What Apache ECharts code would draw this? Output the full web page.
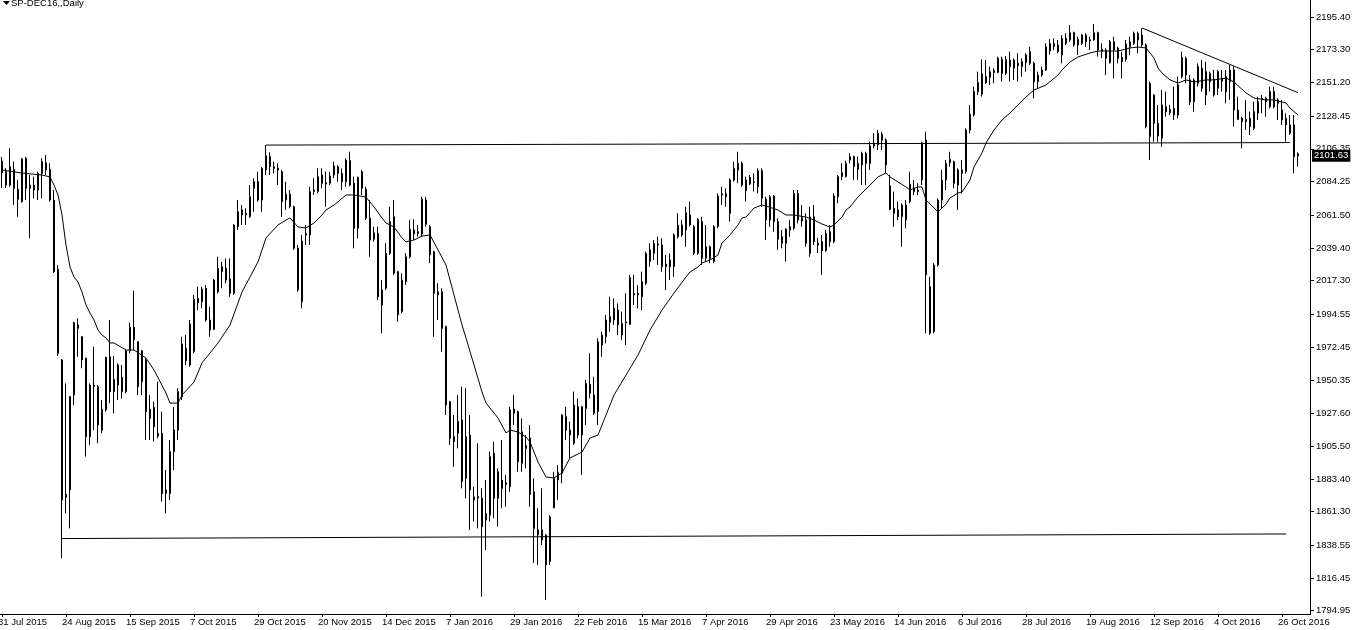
<!DOCTYPE html>
<html><head><meta charset="utf-8">
<script src="https://cdn.jsdelivr.net/npm/echarts@6/dist/echarts.min.js"></script>
<style>html,body{margin:0;padding:0;background:#fff}#c{width:1355px;height:630px}</style>
</head><body><div id="c"></div>
<script>
// ---- categories: trading days shown on the chart ----
const firstDay = '2015-07-31';
const lastDay = '2016-11-01';
const closedDays = ['2015-12-25', '2016-01-01', '2016-03-25'];
const monthNames = ['Jan','Feb','Mar','Apr','May','Jun','Jul','Aug','Sep','Oct','Nov','Dec'];
function buildDates() {
  const out = [];
  let t = Date.parse(firstDay + 'T00:00:00Z');
  const end = Date.parse(lastDay + 'T00:00:00Z');
  while (t <= end) {
    const d = new Date(t);
    const wd = d.getUTCDay();
    const s = d.toISOString().slice(0, 10);
    if (wd !== 0 && wd !== 6 && closedDays.indexOf(s) < 0) out.push(s);
    t += 86400000;
  }
  return out;
}
const dates = buildDates();

// ---- OHLC values ----
const open = [
2098.1,2090.9,2081.9,2092.5,2079.0,2070.7,2100.0,2079.7,2081.9,2078.6,
2089.8,2097.0,2092.5,2071.8,2025.0,1963.8,1871.0,1876.0,1940.1,1987.4,
1979.5,1964.9,1912.0,1946.9,1945.8,1916.5,1930.0,1966.0,1942.4,1946.9,
1952.1,1942.4,1969.9,1985.9,1976.1,1949.1,1963.8,1930.5,1931.8,1912.4,
1914.3,1876.0,1873.7,1901.9,1916.5,1939.0,1971.7,1960.4,1969.4,2002.4,
2003.1,2012.2,1990.8,1984.5,2009.9,2023.4,2025.7,2018.5,2008.8,2053.8,
2065.1,2061.7,2060.5,2079.7,2084.2,2071.8,2092.1,2101.1,2094.3,2093.2,
2090.9,2071.8,2075.7,2067.3,2039.2,2003.1,2048.2,2048.2,2077.5,2077.5,
2088.7,2083.5,2083.1,2088.7,2094.3,2089.8,2084.2,2098.4,2083.1,2052.7,
2090.9,2079.0,2059.5,2045.3,2049.3,2000.9,2012.2,2035.8,2060.5,2023.4,
1996.4,2016.6,2033.5,2051.6,2050.4,2048.9,2071.8,2053.8,2036.9,2007.7,
2009.9,1986.3,1935.6,1908.6,1914.3,1923.3,1883.9,1913.1,1869.2,1871.4,
1870.4,1855.7,1859.1,1900.8,1870.4,1882.7,1880.9,1878.2,1930.7,1928.9,
1894.0,1905.9,1911.0,1874.8,1849.0,1849.0,1845.6,1827.6,1864.0,1882.7,
1887.2,1925.5,1916.5,1907.5,1932.2,1913.1,1931.1,1947.3,1940.1,1928.9,
1973.9,1979.5,1989.2,1990.8,1997.5,1980.6,1989.6,1987.9,2008.8,2008.8,
2006.5,2015.6,2030.2,2035.8,2042.1,2041.4,2026.8,2031.3,2026.8,2047.0,
2054.9,2051.6,2061.7,2053.8,2035.8,2057.2,2032.4,2040.3,2030.2,2053.8,
2075.1,2076.0,2062.8,2085.3,2092.1,2096.6,2078.1,2087.1,2083.5,2080.8,
2091.6,2072.3,2058.3,2074.5,2057.2,2047.0,2042.6,2051.6,2052.7,2076.3,
2057.6,2058.3,2035.8,2060.5,2042.6,2043.7,2037.6,2050.4,2043.7,2074.0,
2087.6,2087.6,2098.8,2101.1,2092.5,2095.5,2103.3,2096.6,2108.3,2109.0,
2116.4,2112.3,2081.3,2066.2,2065.1,2060.5,2068.4,2070.7,2079.7,2078.6,
2085.3,2112.3,2013.3,1982.9,2028.0,2071.8,2085.3,2097.0,2097.7,2081.9,
2092.1,2090.9,2119.1,2129.2,2145.0,2143.4,2155.1,2154.7,2159.1,2158.0,
2166.8,2157.4,2166.4,2160.8,2164.1,2161.9,2164.5,2172.0,2164.1,2151.7,
2156.2,2159.6,2172.5,2175.3,2176.5,2169.7,2181.0,2179.9,2184.8,2176.5,
2177.6,2183.2,2180.0,2179.9,2184.8,2173.6,2173.1,2164.5,2178.7,2174.3,
2168.2,2166.8,2175.3,2177.6,2184.4,2183.2,2176.5,2114.6,2142.7,2123.6,
2113.5,2134.8,2130.8,2133.7,2129.2,2155.1,2167.5,2152.9,2138.2,2150.6,
2160.8,2158.5,2151.7,2153.3,2147.3,2152.0,2155.1,2151.7,2159.6,2132.6,
2127.0,2124.7,2127.0,2120.2,2130.4,2139.4,2140.5,2134.8,2145.0,2139.4,
2132.6,2127.0,2116.9,2122.5,2103.0];
const high = [
2100.9,2093.4,2106.7,2097.7,2085.3,2100.2,2100.9,2088.7,2087.6,2090.9,
2100.0,2102.2,2096.6,2078.6,2027.9,1964.5,1948.0,1939.5,1989.6,1991.9,
1980.0,1965.5,1948.0,1972.8,1946.9,1936.8,1966.0,1990.8,1966.5,1961.5,
1960.4,1970.5,1989.0,2010.6,1976.6,1970.5,1964.9,1940.1,1935.6,1949.1,
1928.9,1889.5,1909.7,1932.2,1944.7,1979.5,1980.6,1990.8,2007.7,2013.3,
2013.3,2014.4,1999.8,2018.5,2033.5,2030.1,2032.4,2032.4,2055.5,2071.8,
2068.4,2066.2,2081.9,2086.5,2090.9,2094.0,2108.9,2104.0,2097.7,2096.6,
2092.1,2084.2,2078.6,2068.0,2041.4,2048.2,2054.9,2080.8,2086.5,2093.2,
2093.2,2090.9,2090.9,2097.7,2095.4,2093.2,2100.0,2104.4,2087.6,2087.6,
2092.1,2080.8,2071.8,2053.8,2053.8,2017.8,2042.6,2067.3,2071.8,2024.0,
2022.3,2035.8,2058.3,2058.8,2054.9,2074.0,2074.0,2054.9,2037.5,2015.6,
2012.2,1987.0,1936.2,1926.6,1940.1,1945.8,1944.7,1926.6,1878.2,1907.5,
1877.1,1882.7,1901.9,1908.6,1890.6,1909.7,1886.1,1932.2,1940.1,1929.5,
1924.4,1913.1,1919.9,1883.9,1863.6,1877.1,1846.2,1859.1,1888.3,1892.8,
1927.2,1932.2,1922.1,1942.4,1937.9,1932.8,1950.3,1968.3,1952.5,1978.4,
1982.9,1994.2,2006.5,2005.4,2002.0,1996.4,2008.8,2021.2,2021.2,2014.4,
2023.4,2036.9,2042.6,2044.8,2047.0,2046.0,2034.7,2035.8,2049.3,2062.8,
2058.3,2067.3,2070.7,2054.9,2059.5,2060.5,2054.9,2041.0,2054.9,2076.3,
2080.8,2079.7,2086.5,2097.7,2104.4,2097.7,2087.6,2088.7,2089.8,2093.2,
2093.2,2074.0,2075.2,2075.2,2059.5,2051.6,2052.7,2058.3,2078.6,2078.6,
2068.4,2062.8,2067.3,2068.4,2046.2,2048.2,2051.6,2054.9,2076.3,2088.7,
2096.6,2098.4,2103.3,2101.8,2101.1,2104.4,2104.4,2111.2,2116.9,2119.1,
2117.9,2113.5,2088.7,2077.5,2070.7,2069.6,2071.8,2090.9,2085.3,2083.1,
2111.2,2117.9,2020.0,2029.1,2072.9,2092.1,2098.8,2104.4,2098.4,2093.2,
2098.8,2120.2,2136.0,2148.4,2158.5,2166.8,2166.4,2161.9,2160.8,2168.6,
2168.6,2169.1,2172.0,2167.5,2170.9,2167.5,2170.9,2175.3,2165.2,2158.5,
2161.9,2177.6,2180.5,2181.0,2179.9,2183.2,2184.4,2190.0,2185.5,2182.1,
2183.8,2184.4,2182.1,2190.7,2185.5,2177.6,2174.3,2179.9,2182.1,2175.3,
2172.0,2179.9,2182.1,2185.5,2185.5,2187.8,2177.6,2151.7,2143.3,2136.0,
2146.1,2145.0,2136.0,2148.4,2155.1,2172.0,2168.6,2156.2,2154.0,2164.1,
2166.4,2165.2,2158.5,2159.6,2159.6,2159.6,2159.6,2163.0,2161.9,2141.6,
2128.1,2139.4,2131.5,2138.2,2141.6,2142.7,2141.6,2148.4,2148.4,2140.5,
2139.4,2130.4,2129.2,2129.2,2104.0];
const low = [
2079.9,2079.9,2080.8,2068.5,2060.5,2070.0,2071.8,2046.0,2073.0,2071.8,
2073.0,2088.7,2070.7,2022.5,1966.5,1829.9,1860.2,1850.1,1933.4,1966.0,
1958.2,1898.5,1906.4,1916.5,1907.5,1914.3,1929.0,1934.5,1927.8,1936.8,
1937.9,1941.3,1968.3,1970.5,1940.1,1940.1,1909.8,1909.8,1908.6,1910.9,
1868.1,1860.2,1869.2,1889.5,1909.7,1936.8,1960.4,1959.3,1968.3,1997.5,
1998.7,1989.6,1979.5,1984.0,2008.8,2012.2,2015.6,2006.5,2007.7,2051.6,
2054.9,2054.9,2059.8,2063.9,2070.7,2063.9,2088.7,2088.7,2089.8,2081.9,
2060.5,2065.1,2066.2,2038.1,2009.9,1998.7,2041.4,2041.4,2075.2,2076.3,
2079.7,2067.3,2081.9,2086.5,2084.2,2078.6,2080.8,2081.0,2039.2,2045.9,
2075.2,2058.3,2033.5,2043.7,2004.3,1981.8,2011.0,2034.7,2021.2,1989.6,
1995.3,2014.4,2032.4,2044.8,2047.1,2047.1,2053.8,2029.1,1979.5,1990.8,
1969.4,1926.6,1906.4,1891.7,1904.1,1877.1,1870.4,1849.0,1854.6,1850.1,
1804.0,1835.5,1854.6,1856.9,1851.2,1863.6,1864.7,1874.8,1919.9,1888.3,
1888.3,1890.6,1864.7,1826.8,1825.4,1838.8,1801.7,1825.4,1863.6,1869.2,
1880.5,1909.7,1897.4,1906.4,1910.9,1886.1,1919.9,1937.9,1926.6,1919.9,
1966.0,1975.0,1982.9,1987.4,1980.6,1977.3,1973.9,1987.4,2000.9,1998.7,
1997.5,2014.4,2026.8,2031.3,2027.9,2023.4,2011.0,2017.8,2020.0,2045.9,
2047.0,2040.3,2053.8,2034.7,2034.7,2027.9,2030.2,2029.1,2029.1,2052.7,
2068.5,2067.3,2057.2,2084.2,2083.1,2080.8,2070.7,2081.9,2077.5,2076.3,
2067.3,2044.8,2053.8,2050.4,2038.1,2039.2,2030.2,2047.0,2051.6,2056.1,
2053.8,2040.3,2033.5,2041.4,2036.0,2021.2,2036.9,2040.3,2042.6,2069.6,
2085.3,2087.0,2096.6,2085.3,2085.3,2081.9,2081.9,2092.1,2106.7,2105.6,
2105.6,2089.8,2065.1,2053.8,2058.3,2040.3,2052.7,2069.6,2075.2,2075.2,
2081.9,1981.8,1980.7,1981.8,2026.8,2066.2,2078.6,2094.3,2079.7,2065.1,
2076.3,2089.8,2116.9,2128.1,2142.7,2141.6,2150.2,2149.5,2150.6,2157.4,
2151.7,2156.2,2151.7,2152.9,2151.7,2155.1,2158.5,2163.0,2140.5,2147.3,
2155.1,2159.0,2170.0,2173.1,2170.9,2164.1,2176.5,2178.7,2175.3,2169.7,
2176.5,2175.3,2173.1,2179.4,2168.6,2167.5,2156.2,2164.1,2154.0,2164.1,
2154.0,2165.2,2169.7,2176.5,2170.9,2175.3,2120.2,2098.8,2111.2,2111.2,
2107.8,2128.1,2129.2,2125.8,2127.0,2154.0,2150.6,2136.0,2131.5,2148.4,
2145.0,2136.0,2145.0,2141.6,2142.7,2145.0,2137.1,2139.4,2121.3,2125.8,
2106.7,2119.1,2115.7,2119.1,2125.8,2130.4,2128.1,2133.7,2133.7,2125.8,
2122.5,2111.2,2115.7,2089.8,2094.3];
const close = [
2090.1,2081.9,2094.3,2079.7,2072.3,2099.5,2079.7,2081.9,2078.6,2089.8,
2097.7,2092.1,2071.8,2023.4,1968.3,1869.2,1873.1,1939.0,1989.0,1985.2,
1963.8,1912.0,1946.9,1945.8,1919.9,1930.5,1965.6,1942.4,1950.7,1960.4,
1942.4,1969.9,1985.9,1977.3,1945.8,1970.0,1928.9,1924.4,1918.7,1914.3,
1873.7,1873.7,1901.9,1916.5,1942.4,1974.6,1963.3,1988.1,2004.8,2005.4,
2011.7,1990.8,1984.0,2017.8,2025.7,2026.8,2017.8,2008.8,2054.9,2063.9,
2061.7,2062.8,2074.0,2084.2,2071.8,2093.2,2101.7,2094.3,2093.2,2092.1,
2070.7,2075.7,2067.3,2039.2,2011.0,2044.1,2049.3,2077.5,2078.6,2087.6,
2083.1,2082.6,2088.0,2094.8,2089.8,2084.2,2098.8,2081.9,2052.7,2087.1,
2079.7,2059.5,2044.8,2049.7,2006.5,2011.0,2035.8,2057.2,2022.3,1994.2,
2017.8,2033.5,2052.0,2048.9,2049.3,2072.3,2055.4,2034.7,2008.8,2009.9,
1985.2,1933.4,1910.9,1912.0,1922.3,1881.6,1912.0,1876.0,1871.4,1870.5,
1851.2,1860.2,1898.5,1870.4,1888.3,1877.1,1879.8,1930.0,1927.8,1895.1,
1915.3,1904.1,1873.0,1850.1,1845.6,1842.2,1825.4,1857.9,1883.9,1887.9,
1926.6,1916.5,1913.1,1933.4,1913.1,1932.2,1948.0,1941.3,1927.8,1976.1,
1980.6,1990.8,1993.0,1998.7,1987.4,1988.5,1988.9,2019.3,2007.7,2007.7,
2016.6,2035.8,2038.1,2042.6,2041.4,2026.8,2028.6,2026.8,2048.2,2054.9,
2048.2,2063.3,2054.9,2035.8,2058.8,2032.4,2040.3,2032.4,2053.8,2074.5,
2076.0,2074.0,2085.3,2093.2,2096.6,2081.9,2085.3,2082.6,2084.0,2091.6,
2073.0,2058.3,2074.0,2057.2,2045.3,2042.6,2052.2,2053.8,2076.3,2058.3,
2059.8,2042.6,2060.5,2043.7,2041.4,2037.6,2049.3,2043.7,2074.5,2087.6,
2090.3,2096.6,2101.1,2094.3,2096.6,2103.3,2096.6,2108.3,2110.1,2116.9,
2112.3,2095.5,2065.5,2062.8,2060.5,2068.4,2058.3,2082.6,2077.5,2077.5,
2110.5,2021.2,1981.8,2027.9,2071.8,2085.3,2096.6,2099.3,2083.1,2092.1,
2089.8,2119.1,2129.7,2145.0,2151.1,2156.9,2151.1,2158.5,2158.0,2167.5,
2157.4,2166.8,2161.9,2166.4,2162.5,2165.2,2169.7,2164.1,2151.7,2156.2,
2159.6,2175.3,2177.5,2177.6,2172.0,2181.0,2177.6,2184.8,2176.5,2180.3,
2183.2,2178.7,2179.2,2184.8,2173.1,2172.4,2167.5,2178.7,2173.1,2167.5,
2165.2,2177.2,2178.7,2184.4,2179.9,2176.5,2121.3,2150.6,2123.6,2115.0,
2136.0,2131.5,2133.1,2129.2,2149.5,2168.2,2156.2,2138.2,2152.9,2161.9,
2147.3,2142.7,2157.4,2142.7,2158.5,2154.0,2145.0,2159.6,2132.6,2126.3,
2124.7,2126.3,2121.3,2131.5,2138.2,2140.5,2138.2,2145.0,2134.8,2137.1,
2125.8,2122.5,2122.5,2101.1,2101.63];

// ---- moving average line: [bar index, value] ----
const maPoints = [
[0,2092.1],[5,2090.0],[10,2088.7],[12,2087.4],[13,2081.9],[14,2075.2],[15,2061.7],[16,2041.4],[17,2026.6],[18,2019.8],
[19,2016.4],[20,2009.7],[21,2000.9],[22,1995.5],[23,1990.8],[24,1984.0],[25,1980.6],[26,1978.6],[27,1975.3],[28,1975.3],
[31,1970.5],[33,1970.5],[36,1965.1],[38,1957.0],[41,1941.5],[42,1934.7],[44,1934.7],[45,1940.1],[48,1948.9],[50,1961.8],
[52,1968.5],[54,1975.3],[57,1987.4],[60,2009.7],[64,2030.0],[66,2046.2],[69,2055.0],[71,2058.3],[72,2059.7],[74,2053.6],
[76,2052.9],[78,2056.3],[80,2061.7],[81,2065.1],[83,2068.4],[86,2075.2],[88,2075.2],[91,2073.8],[93,2067.1],[95,2059.7],
[96,2056.3],[98,2053.6],[100,2046.2],[101,2043.5],[103,2044.8],[105,2047.5],[107,2048.2],[109,2038.1],[111,2027.9],[113,2007.7],
[115,1987.4],[116,1978.6],[118,1960.4],[120,1942.2],[121,1934.7],[124,1924.6],[126,1914.5],[127,1916.5],[129,1915.1],[131,1911.8],
[132,1908.4],[134,1894.9],[136,1884.8],[138,1884.1],[140,1887.5],[142,1897.6],[145,1901.6],[147,1911.1],[149,1913.1],[151,1926.6],
[153,1940.1],[156,1953.6],[159,1967.1],[162,1984.0],[165,1997.5],[168,2009.0],[171,2019.8],[172,2023.2],[174,2026.6],[175,2029.3],
[177,2031.3],[179,2034.7],[180,2042.8],[182,2048.2],[184,2055.0],[185,2059.7],[186,2060.3],[188,2066.4],[190,2068.4],[191,2067.8],
[194,2065.1],[196,2061.7],[198,2061.7],[201,2060.3],[203,2058.3],[205,2055.6],[207,2053.6],[208,2055.0],[210,2060.3],[211,2065.1],
[212,2067.1],[214,2073.9],[217,2081.9],[219,2087.4],[221,2090.1],[222,2087.4],[224,2084.0],[226,2080.6],[227,2078.6],[229,2080.6],
[230,2080.6],[231,2071.8],[233,2066.4],[234,2063.7],[235,2066.4],[236,2069.0],[237,2073.2],[239,2076.5],[240,2077.2],[242,2085.3],
[243,2094.1],[245,2103.6],[246,2110.3],[248,2119.1],[250,2125.8],[252,2130.6],[254,2136.0],[256,2141.4],[258,2146.1],[261,2149.5],
[264,2156.2],[265,2159.6],[267,2165.0],[269,2168.4],[272,2171.1],[274,2172.4],[277,2172.4],[279,2172.4],[282,2174.5],[284,2175.1],
[286,2174.5],[288,2167.7],[289,2161.0],[290,2157.6],[292,2152.9],[294,2150.8],[296,2152.9],[298,2151.5],[301,2152.9],[303,2152.9],
[306,2154.2],[308,2151.5],[311,2144.1],[313,2140.7],[316,2139.4],[318,2139.4],[321,2137.3],[322,2133.9],[324,2129.2]];

// ---- drawn lines: [bar index, price] end points ----
const resistanceLine = [[66, 2108.9], [322, 2110.6]];
const supportLine = [[15, 1843.2], [321, 1846.3]];
const downTrendLine = [[285, 2188.0], [324, 2144.3]];

// ---- price scale ----
const yTickLabels = [2195.40, 2173.30, 2151.20, 2128.45, 2106.35, 2084.25, 2061.50, 2039.40, 2017.30,
  1994.55, 1972.45, 1950.35, 1927.60, 1905.50, 1883.40, 1861.30, 1838.55, 1816.45, 1794.95];
const yMin = 1792.25, yMax = 2206.88;
const lastPrice = 2101.63;
const chartTitle = 'SP-DEC16,,Daily';

const FONT = 'Liberation Sans';
const candles = dates.map((d, i) => [open[i], close[i], low[i], high[i]]);
const maData = dates.map(() => '-');
maPoints.forEach(p => { maData[p[0]] = p[1]; });
function seg(line) {
  return [{ coord: [dates[line[0][0]], line[0][1]] }, { coord: [dates[line[1][0]], line[1][1]] }];
}
function fmtDate(v) {
  const p = v.split('-');
  return (+p[2]) + ' ' + monthNames[+p[1] - 1] + ' ' + p[0];
}

const chart = echarts.init(document.getElementById('c'), null, { renderer: 'canvas' });
chart.setOption({
  animation: false,
  backgroundColor: '#fff',
  title: {
    text: chartTitle, left: 11, top: -2, padding: 0,
    textStyle: { fontFamily: FONT, fontSize: 9.5, fontWeight: 'normal', color: '#000' }
  },
  grid: { left: 0, top: 0, width: 1300, height: 614, containLabel: false, outerBoundsMode: 'none' },
  xAxis: {
    type: 'category', data: dates, boundaryGap: true,
    axisLine: { show: true, lineStyle: { color: '#000', width: 1 } },
    axisTick: { show: true, interval: 15, alignWithLabel: true, length: 3, lineStyle: { color: '#000' } },
    axisLabel: {
      interval: 15, formatter: fmtDate, align: 'left', margin: 3, color: '#000',
      fontFamily: FONT, fontSize: 9.5, padding: [0, 0, 0, -4]
    },
    splitLine: { show: false }
  },
  yAxis: {
    type: 'value', position: 'right', offset: 10, min: yMin, max: yMax, scale: true,
    axisLine: { show: true, lineStyle: { color: '#000', width: 1 } },
    axisTick: { show: true, length: 4, customValues: yTickLabels, lineStyle: { color: '#000' } },
    axisLabel: {
      customValues: yTickLabels, formatter: v => Number(v).toFixed(2), margin: 6,
      color: '#000', fontFamily: FONT, fontSize: 9.5
    },
    splitLine: { show: false }
  },
  graphic: [
    { type: 'polygon', shape: { points: [[3, 1], [10, 1], [6.5, 5]] }, style: { fill: '#000' } },
    { type: 'line', shape: { x1: 1298, y1: 614.5, x2: 1311, y2: 614.5 }, style: { stroke: '#000', lineWidth: 1 } }
  ],
  series: [
    {
      type: 'candlestick', data: candles, barWidth: 2,
      itemStyle: { color: '#fff', color0: '#000', borderColor: '#000', borderColor0: '#000', borderColorDoji: '#000', borderWidth: 1 },
      markLine: {
        silent: true, animation: false, symbol: ['none', 'none'], precision: 2,
        lineStyle: { color: '#000', width: 1, type: 'solid' },
        label: { show: false },
        emphasis: { disabled: true },
        data: [
          seg(resistanceLine), seg(supportLine), seg(downTrendLine)
        ]
      }
    },
    {
      type: 'line', data: maData, connectNulls: true, showSymbol: false, symbol: 'none',
      lineStyle: { color: '#000', width: 1 }, silent: true, z: 3,
      markLine: {
        silent: true, animation: false, symbol: ['none', 'none'],
        lineStyle: { color: 'rgba(0,0,0,0)', width: 1, type: 'solid' },
        emphasis: { disabled: true },
        label: {
          show: true, position: 'end', distance: 12, formatter: () => lastPrice.toFixed(2),
          backgroundColor: '#000', color: '#fff', fontFamily: FONT, fontSize: 9.5, padding: [1, 2, 1, 2]
        },
        data: [{ yAxis: lastPrice }]
      }
    }
  ]
});
</script>
</body></html>
